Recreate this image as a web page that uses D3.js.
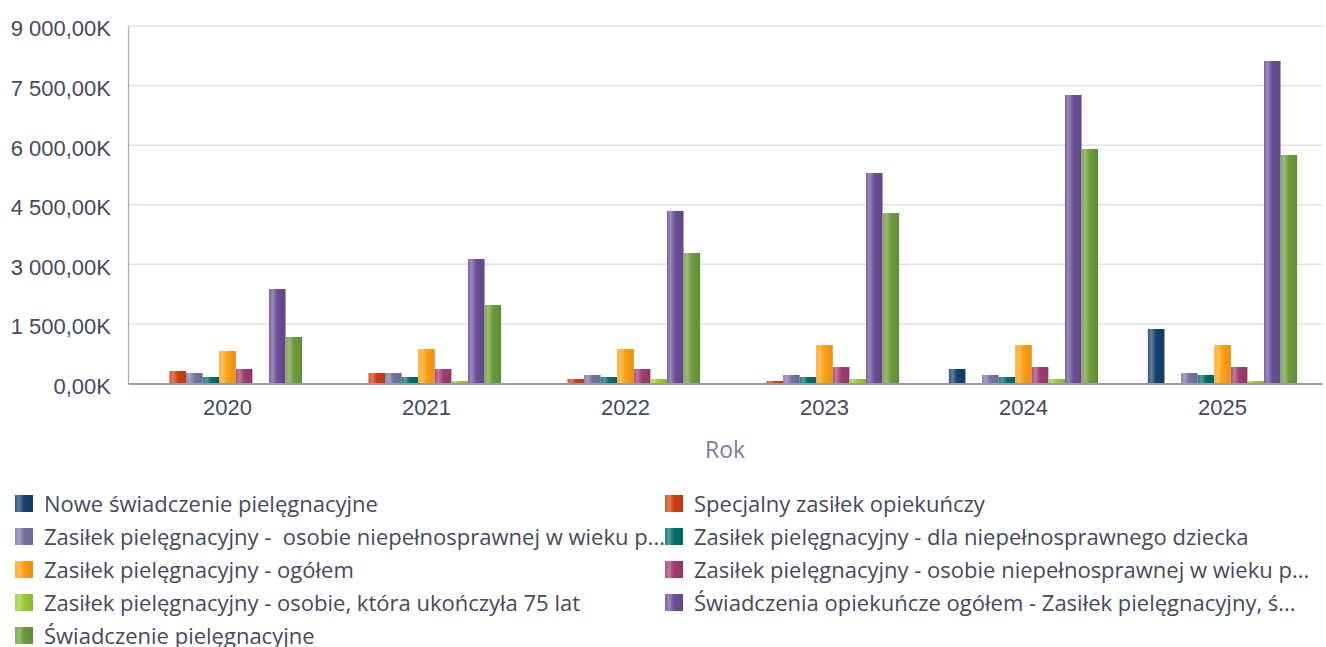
<!DOCTYPE html>
<html>
<head>
<meta charset="utf-8">
<script src="https://cdn.jsdelivr.net/npm/d3@7"></script>
<style>
  html, body { margin: 0; padding: 0; background: #fff; }
  svg { display: block; font-family: "Open Sans", "Noto Sans", sans-serif; }
</style>
</head>
<body>
<svg id="chart" width="1326" height="647"></svg>
<script>
// Years on the x axis
const years = ["2020", "2021", "2022", "2023", "2024", "2025"];

// Series names (as shown in the legend) and their colours
const seriesNames = [
  "Nowe świadczenie pielęgnacyjne",
  "Specjalny zasiłek opiekuńczy",
  "Zasiłek pielęgnacyjny -  osobie niepełnosprawnej w wieku p...",
  "Zasiłek pielęgnacyjny - dla niepełnosprawnego dziecka",
  "Zasiłek pielęgnacyjny - ogółem",
  "Zasiłek pielęgnacyjny - osobie niepełnosprawnej w wieku p...",
  "Zasiłek pielęgnacyjny - osobie, która ukończyła 75 lat",
  "Świadczenia opiekuńcze ogółem - Zasiłek pielęgnacyjny, ś...",
  "Świadczenie pielęgnacyjne"
];
const seriesColors = [
  "#15406e", "#cf3f0e", "#7676a6", "#006e6a", "#ffa010",
  "#a03c6e", "#99cc33", "#6a4f96", "#6c9c3a"
];

// Values in thousands, one array per series, aligned with `years`
const nowe          = [0, 0, 0, 0, 365, 1372];
const specjalny     = [315, 264, 113, 63, 0, 0];
const zpWiekuA      = [264, 264, 214, 214, 214, 264];
const zpDziecko     = [164, 164, 164, 164, 164, 214];
const zpOgolem      = [818, 869, 869, 969, 969, 969];
const zpWiekuB      = [365, 365, 365, 415, 415, 415];
const zp75          = [0, 63, 113, 113, 113, 63];
const opiekuncze    = [2379, 3134, 4343, 5300, 7263, 8119];
const swiadczenie   = [1171, 1976, 3285, 4292, 5904, 5753];
const seriesValues = [nowe, specjalny, zpWiekuA, zpDziecko, zpOgolem, zpWiekuB, zp75, opiekuncze, swiadczenie];

// Y axis ticks (thousands)
const yTicks = [0, 1500, 3000, 4500, 6000, 7500, 9000];

const svg = d3.select("#chart");
const margin = { left: 128, right: 4, top: 26, bottom: 263.5 };
const W = 1326, H = 647;
const plotBottom = H - margin.bottom;

const locale = d3.formatLocale({ decimal: ",", thousands: "\u00a0", grouping: [3], currency: ["", ""] });
const fmt = locale.format(",.2f");

const x0 = d3.scaleBand().domain(years).range([margin.left, W - margin.right]).paddingInner(0.25).paddingOuter(0.125);
const x1 = d3.scaleBand().domain(d3.range(seriesNames.length)).range([0, x0.bandwidth()]);
const y = d3.scaleLinear().domain([0, 9000]).range([plotBottom, margin.top]);

// Cylindrical shading for each series: soft highlight left of centre, darker right edge
const defs = svg.append("defs");
seriesColors.forEach((c, i) => {
  const g = defs.append("linearGradient").attr("id", "grad" + i)
    .attr("x1", "0%").attr("x2", "100%").attr("y1", "0%").attr("y2", "0%");
  const base = d3.color(c);
  const tint = t => d3.color(d3.interpolateRgb(c, "#ffffff")(t));
  [[0, tint(0.12)], [0.22, tint(0.32)], [0.5, base], [1, base.darker(0.3)]]
    .forEach(([o, col]) => g.append("stop").attr("offset", o).attr("stop-color", col.formatHex()));
});

// Gridlines
svg.append("g")
  .selectAll("line").data(yTicks.filter(d => d > 0)).join("line")
  .attr("x1", margin.left).attr("x2", W - margin.right)
  .attr("y1", d => y(d)).attr("y2", d => y(d))
  .attr("stroke", "#e0dfe6").attr("stroke-width", 1.5);

// Y axis labels
const yAxis = d3.axisLeft(y).tickValues(yTicks).tickSize(0).tickPadding(17).tickFormat(d => fmt(d) + "K");
const yg = svg.append("g").attr("transform", `translate(${margin.left},0)`).call(yAxis);
yg.select(".domain").attr("stroke", "#a9a8c4").attr("stroke-width", 1.2);
yg.selectAll("text").attr("fill", "#454a5c").style("font-size", "22px").attr("dy", "0.45em");

// Bars
const groups = svg.append("g").selectAll("g").data(years).join("g")
  .attr("transform", d => `translate(${x0(d)},0)`);
groups.selectAll("rect")
  .data((yr, yi) => seriesValues.map((vals, si) => ({ si, v: vals[yi] })).filter(d => d.v > 0))
  .join("rect")
  .attr("x", d => x1(d.si))
  .attr("width", x1.bandwidth())
  .attr("y", d => y(d.v))
  .attr("height", d => plotBottom - y(d.v))
  .attr("fill", d => `url(#grad${d.si})`);

// X axis
const xAxis = d3.axisBottom(x0).tickSize(0).tickPadding(16);
const xg = svg.append("g").attr("transform", `translate(0,${plotBottom})`).call(xAxis);
xg.select(".domain").attr("stroke", "#9a98b4").attr("stroke-width", 2);
xg.selectAll("text").attr("fill", "#454a5c").style("font-size", "22px");

// Axis title
svg.append("text").attr("x", (margin.left + W - margin.right) / 2).attr("y", 458)
  .attr("text-anchor", "middle").attr("fill", "#7d7c9e").style("font-size", "23px").text("Rok");

// Legend: two columns, row-major order
const legend = svg.append("g");
const colX = [15, 665], rowY0 = 504, rowStep = 33;
const items = legend.selectAll("g").data(seriesNames).join("g")
  .attr("transform", (d, i) => `translate(${colX[i % 2]},${rowY0 + Math.floor(i / 2) * rowStep})`);
items.append("rect").attr("x", 0).attr("y", -9).attr("width", 18).attr("height", 17)
  .attr("fill", (d, i) => `url(#grad${i})`);
items.append("text").attr("x", 29).attr("y", 0).attr("dy", "0.36em")
  .attr("fill", "#454a5c").style("font-size", "22px").style("white-space", "pre")
  .text(d => d);
</script>
</body>
</html>
